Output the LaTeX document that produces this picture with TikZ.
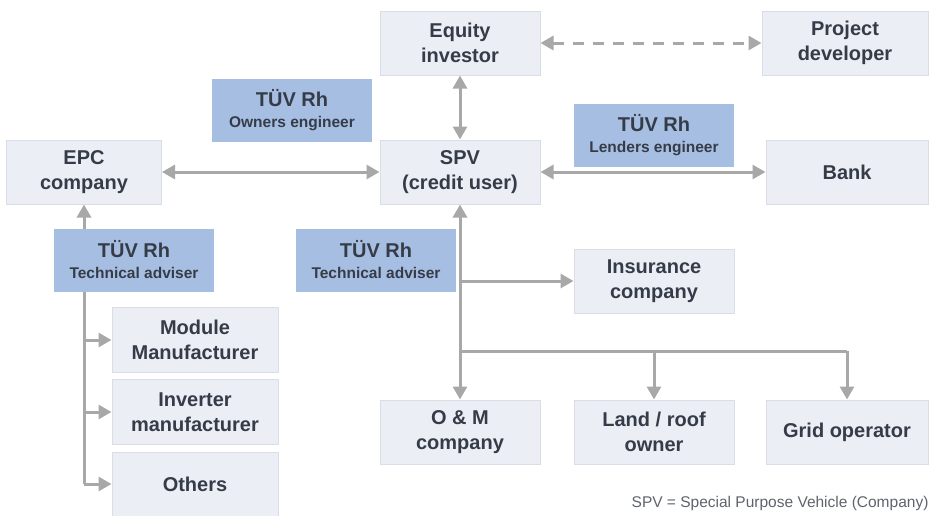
\documentclass[tikz,border=0pt]{standalone}
\usepackage{fontspec}
\setmainfont{Liberation Sans}
\usepackage{xcolor}
\usetikzlibrary{arrows.meta}
\definecolor{boxfill}{HTML}{EBEFF5}
\definecolor{boxline}{HTML}{D9DEE6}
\definecolor{tuvfill}{HTML}{A6BEE2}
\definecolor{txtcol}{HTML}{363C47}
\definecolor{arrcol}{HTML}{A8A8A8}
\tikzset{
  >={Triangle[width=14pt,length=13pt]},
  party/.style={draw=boxline, line width=1pt, fill=boxfill, text=txtcol, minimum width=160pt, minimum height=64pt,
    inner sep=0pt, align=center, font=\bfseries\fontsize{20}{25}\selectfont},
  tuv/.style={fill=tuvfill, text=txtcol, minimum width=160pt, minimum height=63pt, inner sep=0pt, align=center,
    font=\bfseries\fontsize{20}{21}\selectfont},
  link/.style={draw=arrcol, line width=3pt}
}
\newcommand{\tuvlabel}[1]{T\"UV Rh\\{\fontsize{15.5}{17}\selectfont #1}}
\begin{document}
\begin{tikzpicture}[x=1pt, y=-1pt]
\useasboundingbox (0,0) rectangle (933,515);
\node[party] (equity) at (460,43) {Equity\\investor};
\node[party, minimum width=166pt] (developer) at (845,43) {Project\\developer};
\node[party, minimum width=155pt] (epc) at (84,172) {EPC\\company};
\node[party] (spv) at (460,172) {SPV\\(credit user)};
\node[party, minimum width=162pt] (bank) at (847,172) {Bank};
\node[party] (insurance) at (654,281) {Insurance\\company};
\node[party, minimum width=166pt, minimum height=65pt] (module) at (195,340) {Module\\Manufacturer};
\node[party, minimum width=166pt, minimum height=65pt] (inverter) at (195,412) {Inverter\\manufacturer};
\node[party, minimum width=166pt] (others) at (195,484) {Others};
\node[party] (om) at (460,432) {O \& M\\company};
\node[party] (land) at (654,432) {Land / roof\\owner};
\node[party, minimum width=162pt] (grid) at (847,432) {Grid operator};
\coordinate (epcfoot) at (84,484);
\coordinate (insjoin) at (460,281);
\coordinate (opsjoin) at (460,351);
\coordinate (landjoin) at (654,351);
\coordinate (gridjoin) at (847,351);
% links
\draw[link, <->, dash pattern=on 11pt off 9pt] (equity) -- (developer);
\draw[link, <->] (equity) -- (spv);
\draw[link, <->] (epc) -- (spv);
\draw[link, <->] (spv) -- (bank);
\draw[link, <->] (spv) -- (om);
\draw[link, ->] (insjoin) -- (insurance);
\draw[link] (opsjoin) -- (gridjoin);
\draw[link, ->] (gridjoin) -- (grid);
\draw[link, ->] (landjoin) -- (land);
\draw[link, ->] (epcfoot) -- (epc);
\draw[link, ->] (epcfoot |- module) -- (module);
\draw[link, ->] (epcfoot |- inverter) -- (inverter);
\draw[link, ->] (epcfoot) -- (others);
% advisers
\node[tuv] (owners) at (292,110) {\tuvlabel{Owners engineer}};
\node[tuv] (lenders) at (654,135) {\tuvlabel{Lenders engineer}};
\node[tuv] (advepc) at (134,260) {\tuvlabel{Technical adviser}};
\node[tuv] (advspv) at (376,260) {\tuvlabel{Technical adviser}};
\node[anchor=east, text=txtcol!80, font=\fontsize{15.5}{17}\selectfont] (note) at (932,503) {SPV = Special Purpose Vehicle (Company)};
\end{tikzpicture}
\end{document}
